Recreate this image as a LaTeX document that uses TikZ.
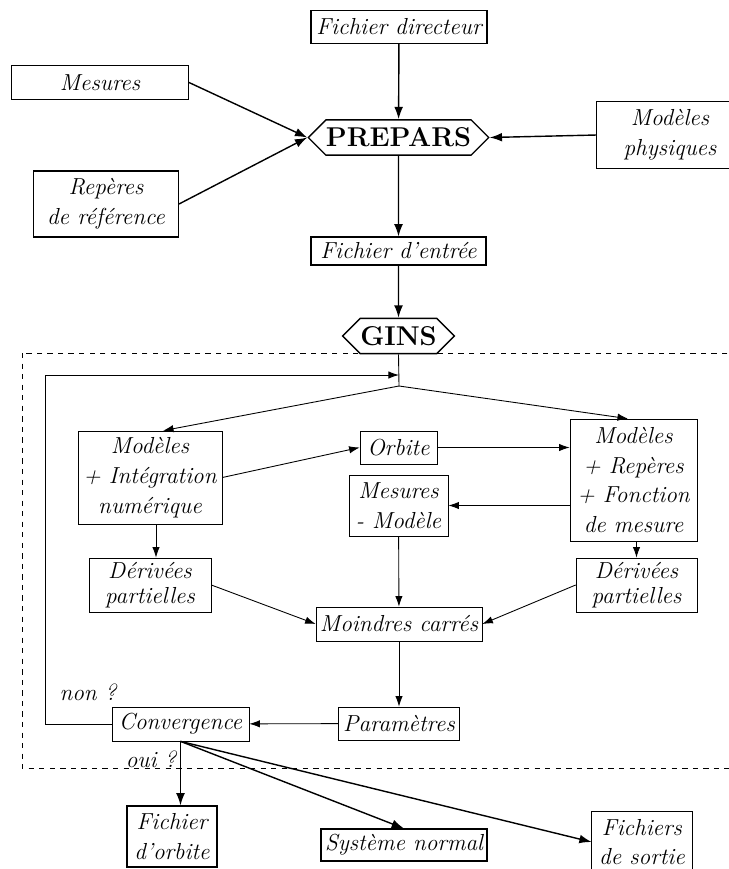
\documentclass[tikz,border=0pt]{standalone}
\usetikzlibrary{shapes.symbols,arrows.meta}
\begin{document}
\begin{tikzpicture}[x=0.02cm,y=-0.02cm,
    boite/.style={draw,align=center,inner xsep=1pt,inner ysep=2pt,
      font=\fontsize{13.2}{17}\selectfont\itshape},
    texte/.style={align=center,font=\fontsize{13.2}{17}\selectfont\itshape},
    hexa/.style={draw,thick,signal,signal to=west and east,inner xsep=0pt,
      inner ysep=4.5pt,font=\fontsize{15.5}{18}\selectfont\bfseries},
    gros/.style={-{Latex[length=7pt,width=5pt]},thick},
    fin/.style={-{Latex[length=6pt,width=4.2pt]},line width=0.5pt}]
  \useasboundingbox (0,0) rectangle (729,869);
  % partie PREPARS
  \node[boite,semithick,minimum width=3.52cm,minimum height=0.66cm] (fdir) at (399,27) {Fichier directeur};
  \node[boite,semithick,minimum width=3.54cm,minimum height=0.67cm] (mes) at (100,82.5) {Mesures};
  \node[texte,minimum width=2.92cm,minimum height=1.32cm] (modphys) at (670,135) {Modèles\\physiques};
  \draw[semithick] (modphys.north west) rectangle ([xshift=1cm]modphys.south east);
  \node[boite,semithick,minimum width=2.9cm,minimum height=1.32cm] (rep) at (106,204) {Repères\\de référence};
  \node[hexa] (prepars) at (398.5,137.5) {PREPARS};
  \node[boite,semithick,minimum width=3.5cm,minimum height=0.56cm] (fentree) at (398.5,251) {Fichier d'entrée};
  \node[hexa] (gins) at (398.5,336) {GINS};
  \draw[gros] (fdir) -- (prepars);
  \draw[gros] (mes.east) -- (prepars.west);
  \draw[gros] (rep.east) -- (prepars.west);
  \draw[gros] (modphys.west) -- (prepars.east);
  \draw[gros] (prepars) -- (fentree);
  \draw[gros] (fentree) -- (gins);
  % cadre GINS
  \draw[dashed] (22,353) rectangle (745,768);
  \node[boite,minimum width=2.88cm,minimum height=1.86cm] (modg) at (150,477.5) {Modèles\\+ Intégration\\numérique};
  \node[boite,minimum width=1.54cm,minimum height=0.66cm] (orb) at (398.5,447.5) {Orbite};
  \node[boite,minimum width=1.98cm,minimum height=1.22cm] (mesmod) at (398.5,505.5) {Mesures\\- Modèle};
  \node[boite,minimum width=2.54cm,minimum height=2.44cm] (modd) at (633.5,480) {Modèles\\+ Repères\\+ Fonction\\de mesure};
  \node[boite,minimum width=2.44cm,minimum height=1.08cm] (derg) at (150,585) {Dérivées\\[-2.5pt]partielles};
  \node[boite,minimum width=2.42cm,minimum height=1.08cm] (derd) at (636.5,585) {Dérivées\\[-2.5pt]partielles};
  \node[boite,minimum width=3.32cm,minimum height=0.68cm] (mc) at (399,624) {Moindres carrés};
  \node[boite,minimum width=2.43cm,minimum height=0.66cm] (param) at (399,723.5) {Paramètres};
  \node[boite,minimum width=2.74cm,minimum height=0.68cm] (conv) at (180.5,724) {Convergence};
  \node[texte] (non) at (88,692) {non ?};
  \node[texte] (oui) at (151,759) {oui ?};
  \coordinate (fourche) at (399,386);
  \coordinate (coin) at (45,375);
  \coordinate (retour) at (399,375);
  \draw[line width=0.5pt] (gins.south) -- (fourche);
  \draw[fin] (fourche) -- ([xshift=0.26cm]modg.north);
  \draw[fin] (fourche) -- ([xshift=-0.11cm]modd.north);
  \draw[fin] (conv.west) -| (coin) -- (retour);
  \draw[fin] (modg.east) -- (orb.west);
  \draw[fin] (orb.east) -- (orb.east -| modd.west);
  \draw[fin] (mesmod.east -| modd.west) -- (mesmod.east);
  \draw[fin] ([xshift=0.12cm]modg.south) -- ([xshift=0.12cm]derg.north);
  \draw[fin] (derd.north |- modd.south) -- (derd.north);
  \draw[fin] (derg.east) -- (mc.west);
  \draw[fin] (derd.west) -- (mc.east);
  \draw[fin] (mesmod) -- (mc);
  \draw[fin] (mc) -- (param);
  \draw[fin] (param) -- (conv);
  % sorties
  \node[boite,semithick,minimum width=1.8cm,minimum height=1.22cm] (forb) at (172,836.5) {Fichier\\d'orbite};
  \node[boite,semithick,minimum width=3.32cm,minimum height=0.64cm] (sysn) at (404,845) {Système normal};
  \node[texte,minimum width=2cm,minimum height=1.22cm] (fsort) at (642,842) {Fichiers\\de sortie};
  \draw[semithick] ([yshift=-0.5cm]fsort.south west) rectangle (fsort.north east);
  \draw[gros] (conv.south) -- (conv.south |- forb.north);
  \draw[gros] (conv.south) -- (sysn.north);
  \draw[gros] (conv.south) -- (fsort.west);
\end{tikzpicture}
\end{document}
